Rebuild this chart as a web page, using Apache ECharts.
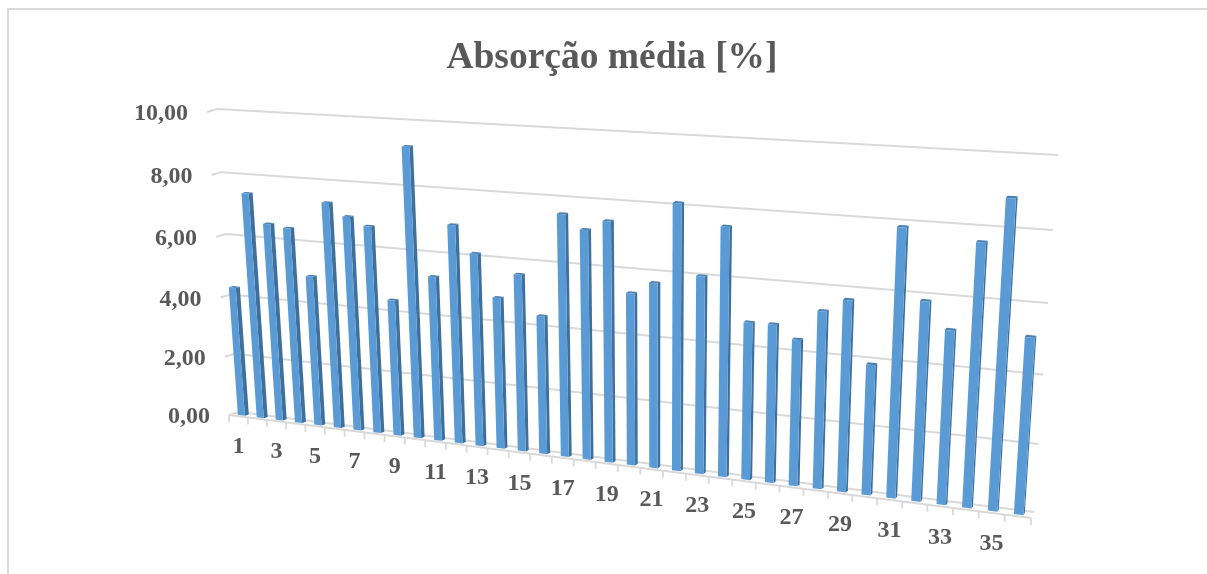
<!DOCTYPE html>
<html>
<head>
<meta charset="utf-8">
<style>
  html, body { margin: 0; padding: 0; background: #fff; overflow: hidden; }
  #chart { width: 1207px; height: 574px; }
</style>
<script src="https://cdn.jsdelivr.net/npm/echarts@6/dist/echarts.min.js"></script>
</head>
<body>
<div id="chart"></div>
<script>
// Mean absorption per sample
const categories = ['1','2','3','4','5','6','7','8','9','10','11','12','13','14','15','16','17','18',
  '19','20','21','22','23','24','25','26','27','28','29','30','31','32','33','34','35','36'];
const absorption = [4.33,7.45,6.52,6.44,4.94,7.35,6.96,6.71,4.42,9.26,5.29,6.96,6.13,4.82,5.60,4.38,7.55,7.13,
  7.44,5.34,5.71,8.12,6.03,7.54,4.79,4.80,4.42,5.32,5.71,3.90,7.89,5.87,5.11,7.63,8.89,5.12];
const valueTicks = [0, 2, 4, 6, 8, 10];
const valueTickLabels = ['0,00', '2,00', '4,00', '6,00', '8,00', '10,00'];
const categoryTickCount = 37;

const TEXT = '#595959';
const RULE = '#d9d9d9';
const SERIF = '"Liberation Serif", "Times New Roman", serif';

// Plane corners of the tilted 3D box: [bottom-left, bottom-right, top-right, top-left]
const backWall = [[239, 412], [1034, 512], [1058, 155], [217, 109]];
const frontPlane = [[229, 415], [1031, 518], [1054, 161], [207, 112]];

// Unit square to quad homography
function homography(q) {
  const [[x0, y0], [x1, y1], [x2, y2], [x3, y3]] = q;
  const dx1 = x1 - x2, dx2 = x3 - x2, sx = x0 - x1 + x2 - x3;
  const dy1 = y1 - y2, dy2 = y3 - y2, sy = y0 - y1 + y2 - y3;
  const den = dx1 * dy2 - dx2 * dy1;
  const g = (sx * dy2 - dx2 * sy) / den, h = (dx1 * sy - sx * dy1) / den;
  const a = x1 - x0 + g * x1, b = x3 - x0 + h * x3, c = x0;
  const d = y1 - y0 + g * y1, e = y3 - y0 + h * y3, f = y0;
  return (u, v) => {
    const w = g * u + h * v + 1;
    return [(a * u + b * v + c) / w, (d * u + e * v + f) / w];
  };
}
const toBack = homography(backWall);
const toFront = homography(frontPlane);

// depth 0 is the front edge of the floor, depth 1 is the back wall
function project(u, v, depth) {
  const p = toFront(u, v), q = toBack(u, v);
  return [p[0] + (q[0] - p[0]) * depth, p[1] + (q[1] - p[1]) * depth];
}

// The hidden grid fills the canvas, so its pixels normalise straight to plane coordinates
const chart = echarts.init(document.getElementById('chart'));
const W = chart.getWidth(), H = chart.getHeight();
const toUV = pt => [pt[0] / W, 1 - pt[1] / H];

const BAR_SHARE = 0.37, DEPTH_NEAR = 0.3, DEPTH_FAR = 0.7;

function renderBar(params, api) {
  const i = api.value(0), val = api.value(1);
  const band = api.size([1, 0])[0];
  const c = api.coord([i, val]), base = api.coord([i, 0]);
  const uL = (c[0] - band * BAR_SHARE / 2) / W, uR = (c[0] + band * BAR_SHARE / 2) / W;
  const vTop = toUV(c)[1], vBase = toUV(base)[1];
  const a = project(uL, vBase, DEPTH_NEAR), b = project(uR, vBase, DEPTH_NEAR);
  const t = project(uR, vTop, DEPTH_NEAR), s = project(uL, vTop, DEPTH_NEAR);
  const b2 = project(uR, vBase, DEPTH_FAR), t2 = project(uR, vTop, DEPTH_FAR), s2 = project(uL, vTop, DEPTH_FAR);
  const face = (points, fill) => ({ type: 'polygon', shape: { points }, style: { fill } });
  return {
    type: 'group',
    children: [
      face([b, b2, t2, t], '#3f6f9b'),
      face([s, t, t2, s2], '#4a80b2'),
      face([a, b, t, s], '#5b9bd5')
    ]
  };
}

function renderGridLine(params, api) {
  const val = api.value(0);
  const v = toUV(api.coord([0, val]))[1];
  const stub = project(0, v, 0), corner = project(0, v, 1), end = project(1, v, 1);
  return {
    type: 'polyline',
    shape: { points: [stub, corner, end] },
    style: { stroke: RULE, lineWidth: 2, fill: null }
  };
}

function renderValueLabel(params, api) {
  const val = api.value(0);
  const v = toUV(api.coord([0, val]))[1];
  const p = project(0, v, 0);
  return {
    type: 'text',
    style: {
      x: p[0] - 19, y: p[1] + 2, text: valueTickLabels[params.dataIndex],
      fill: TEXT, font: 'bold 24px ' + SERIF, align: 'right', verticalAlign: 'middle'
    }
  };
}

function renderCategoryTick(params, api) {
  const band = api.size([1, 0])[0];
  const u = (api.coord([0, 0])[0] + (api.value(0) - 0.5) * band) / W;
  const p = project(u, 0, 0);
  return {
    type: 'line',
    shape: { x1: p[0], y1: p[1], x2: p[0], y2: p[1] + 7 },
    style: { stroke: RULE, lineWidth: 1.8 }
  };
}

function renderFloorEdge(params, api) {
  return {
    type: 'line',
    shape: { x1: project(0, 0, 0)[0], y1: project(0, 0, 0)[1], x2: project(1, 0, 0)[0], y2: project(1, 0, 0)[1] },
    style: { stroke: RULE, lineWidth: 2 }
  };
}

function renderCategoryLabel(params, api) {
  const i = api.value(0);
  if (i % 2 !== 0) return null;
  const u = api.coord([i, 0])[0] / W;
  const p = project(u, 0, 0);
  return {
    type: 'text',
    style: {
      x: p[0], y: p[1] + 31, text: categories[i],
      fill: TEXT, font: 'bold 24px ' + SERIF, align: 'center', verticalAlign: 'middle'
    }
  };
}

const flat = (name, renderItem, data, z) => ({
  name, type: 'custom', renderItem, data, clip: false, silent: true, z, animation: false
});

chart.setOption({
  animation: false,
  backgroundColor: '#fff',
  title: {
    text: 'Absorção média [%]', left: 607, top: 34, textAlign: 'center',
    textStyle: { color: TEXT, fontFamily: SERIF, fontWeight: 'bold', fontSize: 37.5 }
  },
  grid: { left: 0, right: 0, top: 0, bottom: 0, containLabel: false },
  xAxis: { type: 'category', data: categories, show: false, boundaryGap: true },
  yAxis: { type: 'value', min: 0, max: 10, interval: 2, show: false },
  graphic: [{
    type: 'rect', silent: true, z: -10,
    shape: { x: 8, y: 9, width: 1400, height: 800 },
    style: { fill: null, stroke: RULE, lineWidth: 2 }
  }],
  series: [
    flat('grid lines', renderGridLine, valueTicks.map(t => [t]), 1),
    flat('floor edge', renderFloorEdge, [[0]], 1),
    flat('category ticks', renderCategoryTick, Array.from({ length: categoryTickCount }, (_, k) => [k]), 1),
    flat('value labels', renderValueLabel, valueTicks.map(t => [t]), 3),
    flat('category labels', renderCategoryLabel, categories.map((_, k) => [k]), 3),
    flat('Absorção média', renderBar, absorption.map((v, k) => [k, v]), 2)
  ]
});
</script>
</body>
</html>
